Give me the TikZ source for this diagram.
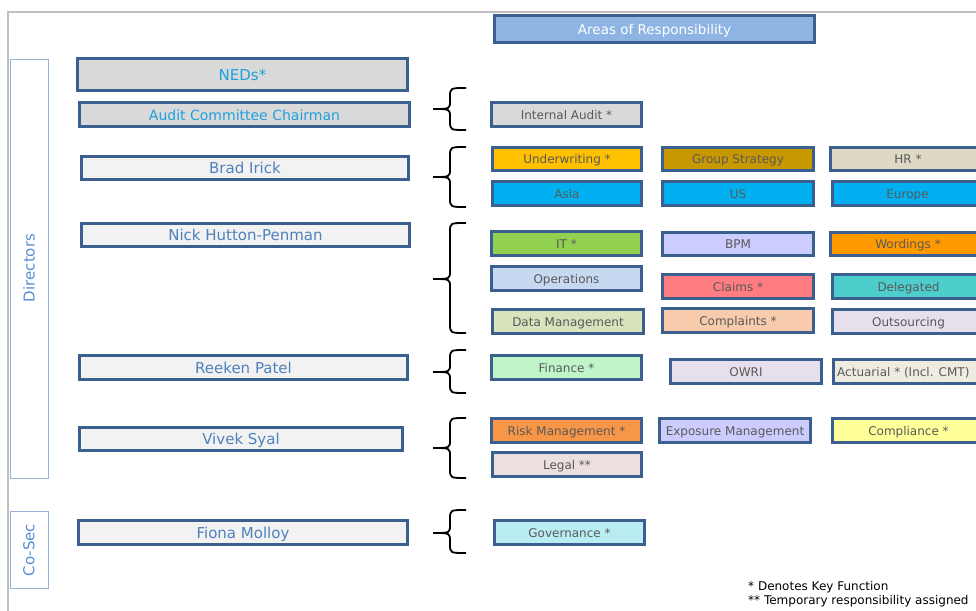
\documentclass[tikz,border=0pt]{standalone}
\usepackage{fontspec}
\setmainfont{DejaVu Sans}
\definecolor{frame}{HTML}{BFBFBF}
\definecolor{bord}{HTML}{3B5F8E}
\definecolor{dirline}{HTML}{95B3D7}
\definecolor{dirtext}{HTML}{558ED5}
\definecolor{aor}{HTML}{8EB4E3}
\definecolor{grayD}{HTML}{D9D9D9}
\definecolor{grayF}{HTML}{F2F2F2}
\definecolor{nedtxt}{HTML}{1FA0DC}
\definecolor{nametxt}{HTML}{4F81BD}
\definecolor{txt}{HTML}{595959}
\definecolor{uw}{HTML}{FFC000}
\definecolor{gs}{HTML}{C89800}
\definecolor{hr}{HTML}{DDD9C4}
\definecolor{asia}{HTML}{00B0F0}
\definecolor{itc}{HTML}{92D050}
\definecolor{bpm}{HTML}{CCCCFF}
\definecolor{word}{HTML}{FF9900}
\definecolor{ops}{HTML}{C6D9F1}
\definecolor{claims}{HTML}{FF7C80}
\definecolor{deleg}{HTML}{4ECDCD}
\definecolor{dm}{HTML}{D7E4BD}
\definecolor{compl}{HTML}{F8CBAD}
\definecolor{outs}{HTML}{E6E0EC}
\definecolor{fin}{HTML}{C0F5CA}
\definecolor{act}{HTML}{EEECE1}
\definecolor{risk}{HTML}{F79646}
\definecolor{compli}{HTML}{FFFF99}
\definecolor{legal}{HTML}{EBDFDF}
\definecolor{gov}{HTML}{B9EDF3}
\newcommand\mkbox[8]{\node[#1,fill=#7,minimum width={(#5-#3)*1pt-2.8pt},minimum height={(#6-#4)*1pt-2.8pt}] (#2) at ({(#3+#5)/2},{(#4+#6)/2}) {#8};}
\newcommand\mybrace[3]{\draw[bracestyle] (466,#1) .. controls (450,#1) .. (450,#1+9) -- (450,#2-8) .. controls (450,#2) .. (433,#2) .. controls (450,#2) .. (450,#2+8) -- (450,#3-9) .. controls (450,#3) .. (466,#3);}
\begin{document}
\begin{tikzpicture}[x=1pt,y=-1pt,
  rb/.style={draw=bord,line width=2.8pt,inner sep=0pt,text=txt,font=\fontsize{12}{14}\selectfont,text height=9.5pt,text depth=0pt},
  lb/.style={rb,text=nametxt,font=\fontsize{15}{17}\selectfont,text height=11.8pt},
  nb/.style={rb,text=nedtxt,font=\fontsize{15}{17}\selectfont,text height=11.8pt},
  bracestyle/.style={draw=black,line width=1.8pt}]
\useasboundingbox (0,0) rectangle (976,610);
\clip (0,0) rectangle (976,610);
\fill[white] (0,0) rectangle (976,610);
% frame
\draw[frame,line width=2pt] (8,612) -- (8,12) -- (980,12);
% side labels
\draw[dirline,line width=0.8pt] (10,59) rectangle (48,478);
\draw[dirline,line width=0.8pt] (10,511) rectangle (48,588);
\node[rotate=90,text=dirtext,font=\fontsize{15}{17}\selectfont] (dir) at (29,268) {Directors};
\node[rotate=90,text=dirtext,font=\fontsize{15}{17}\selectfont] (cosec) at (29,550) {Co-Sec};
% header
\mkbox{rb,text=white,font=\fontsize{13.5}{15}\selectfont,text height=10.5pt}{aor}{493}{14}{816}{44}{aor}{Areas of Responsibility}
% people
\mkbox{nb}{neds}{76}{57}{409}{92}{grayD}{NEDs*}
\mkbox{nb,font=\fontsize{14}{16}\selectfont,text height=11pt}{audit}{78}{101}{411}{128}{grayD}{Audit Committee Chairman}
\mkbox{lb}{brad}{80}{155}{410}{181}{grayF}{Brad Irick}
\mkbox{lb}{nick}{80}{222}{411}{248}{grayF}{Nick Hutton-Penman}
\mkbox{lb}{reeken}{78}{354}{409}{381}{grayF}{Reeken Patel}
\mkbox{lb}{vivek}{78}{426}{404}{452}{grayF}{Vivek Syal}
\mkbox{lb}{fiona}{77}{519}{409}{546}{grayF}{Fiona Molloy}
% braces
\mybrace{88}{109}{130}
\mybrace{147}{177}{207}
\mybrace{223}{279}{333}
\mybrace{350}{372}{393}
\mybrace{418}{448}{478}
\mybrace{510}{533}{553}
% areas
\mkbox{rb}{ia}{490}{101}{643}{128}{grayD}{Internal Audit *}
\mkbox{rb}{uwb}{491}{146}{643}{172}{uw}{Underwriting *}
\mkbox{rb}{gsb}{661}{146}{815}{172}{gs}{Group Strategy}
\mkbox{rb}{hrb}{829}{146}{987}{172}{hr}{HR *}
\mkbox{rb}{asiab}{491}{180}{643}{207}{asia}{Asia}
\mkbox{rb}{usb}{661}{180}{815}{207}{asia}{US}
\mkbox{rb}{eub}{831}{180}{984}{207}{asia}{Europe}
\mkbox{rb}{itb}{490}{230}{643}{257}{itc}{IT *}
\mkbox{rb}{bpmb}{661}{231}{815}{257}{bpm}{BPM}
\mkbox{rb}{wordb}{829}{231}{987}{257}{word}{Wordings *}
\mkbox{rb}{opsb}{490}{265}{643}{292}{ops}{Operations}
\mkbox{rb}{claimsb}{661}{273}{815}{300}{claims}{Claims *}
\mkbox{rb}{delegb}{831}{273}{986}{300}{deleg}{Delegated}
\mkbox{rb}{dmb}{491}{308}{645}{335}{dm}{Data Management}
\mkbox{rb}{complb}{661}{307}{815}{334}{compl}{Complaints *}
\mkbox{rb}{outsb}{831}{308}{986}{335}{outs}{Outsourcing}
\mkbox{rb}{finb}{490}{354}{643}{381}{fin}{Finance *}
\mkbox{rb}{owrib}{669}{358}{823}{385}{outs}{OWRI}
\node[rb,fill=act,minimum width=152.2pt,minimum height=24.2pt,anchor=west] (actb) at (832.4,371.5) {};
\node[anchor=west,inner sep=0pt,text=txt,font=\fontsize{12}{14}\selectfont] (actt) at (837,372.5) {Actuarial * (Incl. CMT)};
\mkbox{rb}{riskb}{490}{417}{643}{444}{risk}{Risk Management *}
\mkbox{rb}{expob}{658}{417}{812}{444}{bpm}{Exposure Management}
\mkbox{rb}{complib}{831}{417}{986}{444}{compli}{Compliance *}
\mkbox{rb}{legalb}{491}{451}{643}{478}{legal}{Legal **}
\mkbox{rb}{govb}{493}{519}{646}{546}{gov}{Governance *}
% legend
\node[anchor=west,inner sep=0pt,font=\fontsize{12}{14}\selectfont] (leg1) at (748,587) {* Denotes Key Function};
\node[anchor=west,inner sep=0pt,font=\fontsize{12}{14}\selectfont] (leg2) at (748,601) {** Temporary responsibility assigned};
\end{tikzpicture}
\end{document}
